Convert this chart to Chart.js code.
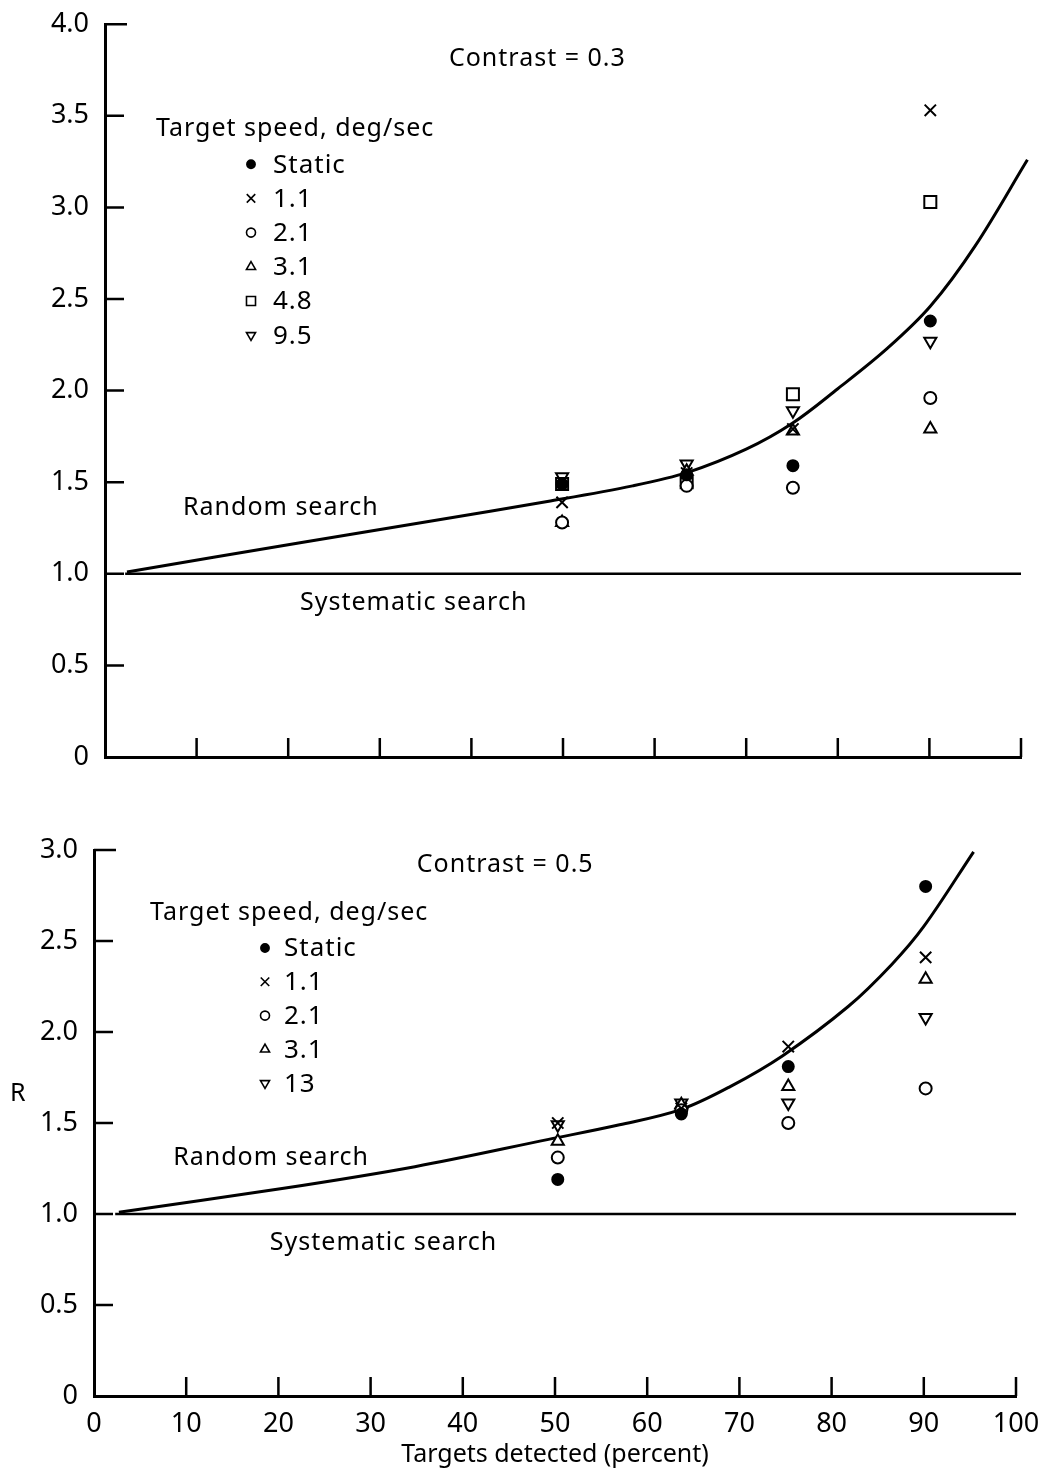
<!DOCTYPE html>
<html>
<head>
<meta charset="utf-8">
<script src="https://cdn.jsdelivr.net/npm/chart.js@4.4.1/dist/chart.umd.min.js"></script>
<style>
  html, body { margin: 0; padding: 0; background: #fff; }
  #page { position: relative; width: 1046px; height: 1472px; }
  .panel { position: absolute; left: 0; width: 1046px; }
  #top { top: 0; height: 790px; }
  #bot { top: 790px; height: 682px; }
</style>
</head>
<body>
<div id="page">
  <div class="panel" id="top"><canvas id="c03"></canvas></div>
  <div class="panel" id="bot"><canvas id="c05"></canvas></div>
</div>
<script>
// ---- data ------------------------------------------------------------
// targets detected (percent) for the four test conditions
const X_03 = [49.9, 63.5, 75.1, 90.1];
const X_05 = [50.3, 63.7, 75.3, 90.2];

// R, contrast 0.3
const SPEEDS_03 = ['Static', '1.1', '2.1', '3.1', '4.8', '9.5'];
const R03_STATIC = [1.49, 1.54, 1.59, 2.38];
const R03_V11 = [1.39, 1.55, 1.79, 3.53];
const R03_V21 = [1.28, 1.48, 1.47, 1.96];
const R03_V31 = [1.28, 1.56, 1.78, 1.79];
const R03_V48 = [1.49, 1.50, 1.98, 3.03];
const R03_V95 = [1.53, 1.60, 1.89, 2.27];

// R, contrast 0.5
const SPEEDS_05 = ['Static', '1.1', '2.1', '3.1', '13'];
const R05_STATIC = [1.19, 1.55, 1.81, 2.80];
const R05_V11 = [1.50, 1.58, 1.92, 2.41];
const R05_V21 = [1.31, 1.57, 1.50, 1.69];
const R05_V31 = [1.40, 1.60, 1.70, 2.29];
const R05_V13 = [1.49, 1.61, 1.61, 2.08];

// random-search curves [percent, R]
const RANDOM_03 = [[2.4, 1.01], [21.3, 1.17], [35.8, 1.29], [48.3, 1.395], [57.6, 1.48],
  [63.7, 1.555], [70.0, 1.68], [75.0, 1.82], [80.0, 2.01], [85.4, 2.23], [90.1, 2.46],
  [95.0, 2.79], [100.7, 3.26]];
const RANDOM_05 = [[2.7, 1.01], [20.4, 1.14], [34.8, 1.26], [49.3, 1.41], [57.0, 1.49],
  [63.7, 1.575], [69.0, 1.70], [74.7, 1.87], [81.8, 2.14], [86.5, 2.37], [90.0, 2.58],
  [95.4, 2.99]];

// systematic search baseline
const SYSTEMATIC_03 = [[2.2, 1.0], [100, 1.0]];
const SYSTEMATIC_05 = [[2.3, 1.0], [100, 1.0]];

// axis ticks
const X_TICKS = [0, 10, 20, 30, 40, 50, 60, 70, 80, 90, 100];
const Y_TICKS_03 = [0, 0.5, 1.0, 1.5, 2.0, 2.5, 3.0, 3.5, 4.0];
const Y_TICKS_05 = [0, 0.5, 1.0, 1.5, 2.0, 2.5, 3.0];

// ---- styling ---------------------------------------------------------
const FONT = '"Noto Sans", "DejaVu Sans", sans-serif';
const INK = '#000';

const MARKS = {
  'Static': { style: 'circle', r: 5.5, solid: true },
  '1.1': { style: 'crossRot', r: 8 },
  '2.1': { style: 'circle', r: 6 },
  '3.1': { style: 'triangle', r: 7 },
  '4.8': { style: 'rect', r: 8.5 },
  '9.5': { style: 'triangle', r: 7, rot: 180 },
  '13': { style: 'triangle', r: 7, rot: 180 },
};

function markerSets(xs, names, rows) {
  return names.map((name, i) => {
    const m = MARKS[name];
    return {
      type: 'scatter',
      label: name,
      data: xs.map((x, j) => ({ x, y: rows[i][j] })),
      pointStyle: m.style,
      rotation: m.rot || 0,
      pointRadius: m.r,
      pointHoverRadius: m.r,
      pointBorderWidth: 2,
      borderColor: INK,
      backgroundColor: m.solid ? INK : '#fff',
      showLine: false,
    };
  });
}

function curveSet(pts, width) {
  return {
    type: 'line',
    data: pts.map(([x, y]) => ({ x, y })),
    borderColor: INK,
    borderWidth: width,
    pointRadius: 0,
    tension: 0.35,
    fill: false,
    clip: false,
  };
}

function setFont(ctx, size) {
  ctx.font = `${size}px ${FONT}`;
  try { ctx.letterSpacing = '1px'; } catch (e) { /* older canvas */ }
}

// inward-pointing tick marks on both axes
const axisMarks = {
  id: 'axisMarks',
  beforeDatasetsDraw(chart) {
    const { ctx, chartArea: a, scales: { x, y } } = chart;
    ctx.save();
    ctx.strokeStyle = INK;
    ctx.lineWidth = 2.5;
    ctx.beginPath();
    x.ticks.forEach((t) => {
      if (t.value <= x.min) return;
      const px = x.getPixelForValue(t.value);
      ctx.moveTo(px, a.bottom);
      ctx.lineTo(px, a.bottom - 19);
    });
    y.ticks.forEach((t) => {
      if (t.value <= y.min) return;
      const py = y.getPixelForValue(t.value);
      ctx.moveTo(a.left, py);
      ctx.lineTo(a.left + (t.value === y.max ? 22 : 19), py);
    });
    ctx.stroke();
    ctx.restore();
  },
};

// text labels placed in data units, plus the hand-drawn key
function notesPlugin(cfg) {
  return {
    id: 'notes',
    afterDraw(chart) {
      const { ctx, chartArea: a, scales: { x, y } } = chart;
      ctx.save();
      ctx.fillStyle = INK;
      ctx.textBaseline = 'middle';

      ctx.textAlign = 'center';
      setFont(ctx, 25);
      cfg.notes.forEach((n) => ctx.fillText(n.text, x.getPixelForValue(n.x), y.getPixelForValue(n.y)));

      if (cfg.yTitle) {
        ctx.textAlign = 'left';
        ctx.fillText(cfg.yTitle.text, 10, y.getPixelForValue(cfg.yTitle.at));
      }

      // key
      const k = cfg.key;
      ctx.textAlign = 'left';
      setFont(ctx, 25);
      ctx.fillText('Target speed, deg/sec', a.left + k.hx, a.top + k.hy);
      setFont(ctx, 26);
      k.names.forEach((name, i) => {
        const m = MARKS[name];
        const cy = a.top + k.rowY + i * k.rowH;
        ctx.fillStyle = m.solid ? INK : '#fff';
        ctx.strokeStyle = INK;
        ctx.lineWidth = 1.6;
        Chart.helpers.drawPoint(ctx, {
          pointStyle: m.style, rotation: m.rot || 0, radius: m.r * 0.75, borderWidth: 1.6,
        }, a.left + k.mx, cy);
        ctx.fillStyle = INK;
        ctx.fillText(name, a.left + k.tx, cy + 1);
      });
      ctx.restore();
    },
  };
}

function makeChart(canvas, cfg) {
  return new Chart(canvas, {
    type: 'scatter',
    data: { datasets: [...cfg.markers, curveSet(cfg.random, 3), curveSet(cfg.systematic, 2.5)] },
    options: {
      responsive: true,
      maintainAspectRatio: false,
      animation: false,
      layout: { padding: { top: cfg.padTop, right: cfg.padRight, left: 0, bottom: 0 } },
      plugins: { legend: { display: false }, tooltip: { enabled: false } },
      scales: {
        x: {
          type: 'linear', min: 0, max: 100,
          afterBuildTicks: (s) => { s.ticks = X_TICKS.map((v) => ({ value: v })); },
          afterFit: (s) => { s.height = cfg.xHeight; },
          grid: { display: false },
          border: { display: true, color: INK, width: 3 },
          ticks: {
            display: cfg.xLabels, color: INK, padding: 4,
            font: { family: FONT, size: 27 },
          },
          title: {
            display: cfg.xLabels, text: 'Targets detected (percent)', color: INK,
            font: { family: FONT, size: 25 }, padding: { top: 0, bottom: 2 },
          },
        },
        y: {
          type: 'linear', min: 0, max: cfg.yTicks[cfg.yTicks.length - 1],
          afterBuildTicks: (s) => { s.ticks = cfg.yTicks.map((v) => ({ value: v })); },
          afterFit: (s) => { s.width = cfg.yWidth; },
          grid: { display: false },
          border: { display: true, color: INK, width: 3 },
          ticks: {
            color: INK, padding: 8,
            font: { family: FONT, size: 27 },
            callback: (v) => (v === 0 ? '0' : Number(v).toFixed(1)),
          },
        },
      },
    },
    plugins: [axisMarks, notesPlugin(cfg)],
  });
}

makeChart(document.getElementById('c03'), {
  markers: markerSets(X_03, SPEEDS_03, [R03_STATIC, R03_V11, R03_V21, R03_V31, R03_V48, R03_V95]),
  random: RANDOM_03,
  systematic: SYSTEMATIC_03,
  yTicks: Y_TICKS_03,
  padTop: 22, padRight: 25, yWidth: 105, xHeight: 33, xLabels: false,
  notes: [
    { text: 'Contrast = 0.3', x: 47.2, y: 3.81 },
    { text: 'Random search', x: 19.2, y: 1.36 },
    { text: 'Systematic search', x: 33.7, y: 0.84 },
  ],
  key: { names: SPEEDS_03, hx: 51, hy: 105, mx: 146, tx: 168, rowY: 140, rowH: 34.2 },
});

makeChart(document.getElementById('c05'), {
  markers: markerSets(X_05, SPEEDS_05, [R05_STATIC, R05_V11, R05_V21, R05_V31, R05_V13]),
  random: RANDOM_05,
  systematic: SYSTEMATIC_05,
  yTicks: Y_TICKS_05,
  padTop: 60, padRight: 30, yWidth: 94, xHeight: 76, xLabels: true,
  notes: [
    { text: 'Contrast = 0.5', x: 44.6, y: 2.92 },
    { text: 'Random search', x: 19.2, y: 1.31 },
    { text: 'Systematic search', x: 31.4, y: 0.84 },
  ],
  yTitle: { text: 'R', at: 1.66 },
  key: { names: SPEEDS_05, hx: 56, hy: 63, mx: 171, tx: 190, rowY: 98, rowH: 33.8 },
});
</script>
</body>
</html>
